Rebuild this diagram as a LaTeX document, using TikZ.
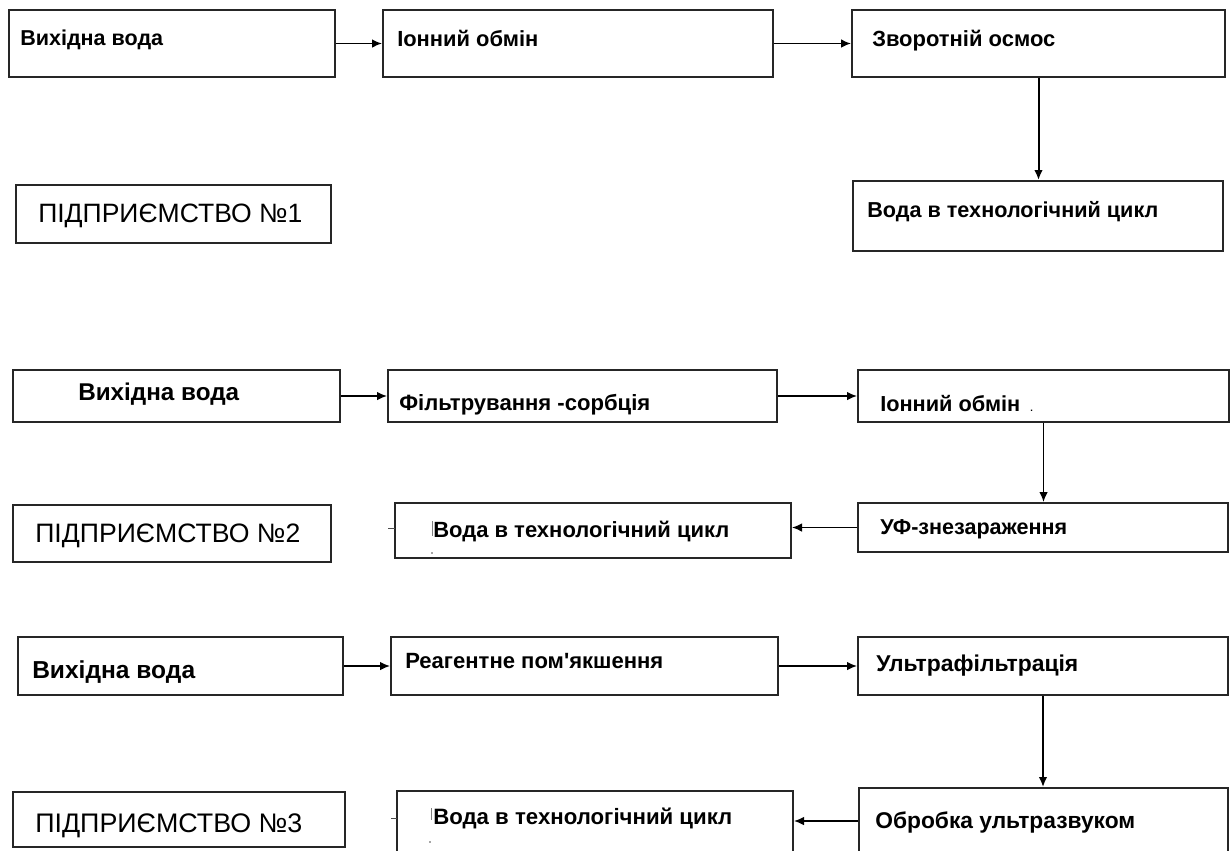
\documentclass[tikz,border=0pt]{standalone}
\usepackage{fontspec}
\setmainfont{Liberation Sans}
\usetikzlibrary{arrows.meta,fit}
\tikzset{
  box/.style={draw=black!85, line width=1.5pt, inner sep=0pt},
  conn/.style={line width=1.2pt, -{Latex[length=7.5pt,width=6.5pt]}},
  lbl/.style={anchor=base west, inner sep=0pt},
  stray/.style={line width=0.7pt, black!70},
}
\newcommand\fw[2]{\resizebox{\dimexpr #1pt*3/4\relax}{!}{#2}}
\begin{document}
\begin{tikzpicture}[x=0.75pt,y=-0.75pt]
\useasboundingbox (0,0) rectangle (1230,850);
\clip (0,0) rectangle (1230,850);
\fill[white] (0,0) rectangle (1230,850);

% ---------- Enterprise 1 ----------
\node[box,fit={(9,10)(335,77)}] (a1) {};
\node[box,fit={(383,10)(773,77)}] (b1) {};
\node[box,fit={(852,10)(1225,77)}] (c1) {};
\node[box,fit={(853,181)(1223,251)}] (d1) {};
\node[box,fit={(16,185)(331,243)}] (p1) {};

\node[lbl] (ta1) at (20,45) {\fw{143}{\textbf{Вихідна вода}}};
\node[lbl] (tb1) at (397,46) {\fw{141}{\textbf{Іонний обмін}}};
\node[lbl] (tc1) at (872,46) {\fw{183}{\textbf{Зворотній осмос}}};
\node[lbl] (td1) at (867,217) {\fw{291}{\textbf{Вода в технологічний цикл}}};
\node[lbl] (tp1) at (38,222) {\fw{264}{ПІДПРИЄМСТВО №1}};

\draw[conn] (a1) -- (b1);
\draw[conn] (b1) -- (c1);
\draw[conn, line width=1.5pt] (c1.south) -- (c1.south |- d1.north);

% ---------- Enterprise 2 ----------
\node[box,fit={(13,370)(340,422)}] (a2) {};
\node[box,fit={(388,370)(777,422)}] (b2) {};
\node[box,fit={(858,370)(1229,422)}] (c2) {};
\node[box,fit={(858,503)(1228,552)}] (u2) {};
\node[box,fit={(395,503)(791,558)}] (w2) {};
\node[box,fit={(13,505)(331,562)}] (p2) {};

\node[lbl] (ta2) at (78,400) {\fw{161}{\textbf{Вихідна вода}}};
\node[lbl] (tb2) at (399,410) {\fw{251}{\textbf{Фільтрування -сорбція}}};
\node[lbl] (tc2) at (880,411) {\fw{140}{\textbf{Іонний обмін}}};
\node[lbl] (dc2) at (1030,411) {\textbf{\scriptsize .}};
\node[lbl] (tu2) at (880,534) {\fw{187}{\textbf{УФ-знезараження}}};
\node[lbl] (tw2) at (433,537) {\fw{296}{\textbf{Вода в технологічний цикл}}};
\node[lbl] (tp2) at (35,542) {\fw{265}{ПІДПРИЄМСТВО №2}};

\draw[conn] (a2) -- (b2);
\draw[conn] (b2) -- (c2);
\draw[conn] (c2.south) -- (c2.south |- u2.north);
\draw[conn] (u2.west) -- (u2.west -| w2.east);

\draw[stray] (388,528) -- (395,528);
\draw[stray, black!50] (432,521) -- (432,536);
\fill[black!70] (432,553) circle (0.9);

% ---------- Enterprise 3 ----------
\node[box,fit={(18,637)(343,695)}] (a3) {};
\node[box,fit={(391,637)(778,695)}] (b3) {};
\node[box,fit={(858,637)(1228,695)}] (c3) {};
\node[box,fit={(859,788)(1228,880)}] (o3) {};
\node[box,fit={(397,791)(793,880)}] (w3) {};
\node[box,fit={(13,792)(345,847)}] (p3) {};

\node[lbl] (ta3) at (32,678) {\fw{163}{\textbf{Вихідна вода}}};
\node[lbl] (tb3) at (405,668) {\fw{258}{\textbf{Реагентне пом\textquotesingle якшення}}};
\node[lbl] (tc3) at (876,671) {\fw{202}{\textbf{Ультрафільтрація}}};
\node[lbl] (to3) at (875,828) {\fw{260}{\textbf{Обробка ультразвуком}}};
\node[lbl] (tw3) at (433,824) {\fw{299}{\textbf{Вода в технологічний цикл}}};
\node[lbl] (tp3) at (35,832) {\fw{267}{ПІДПРИЄМСТВО №3}};

\coordinate (y3) at (0,821);
\draw[conn] (a3) -- (b3);
\draw[conn] (b3) -- (c3);
\draw[conn, line width=1.4pt] (c3.south) -- (c3.south |- o3.north);
\draw[conn] (o3.west |- y3) -- (w3.east |- y3);

\draw[stray] (391,818) -- (397,818);
\draw[stray, black!50] (431,808) -- (431,820);
\fill[black!70] (430,842) circle (0.9);
\end{tikzpicture}
\end{document}
